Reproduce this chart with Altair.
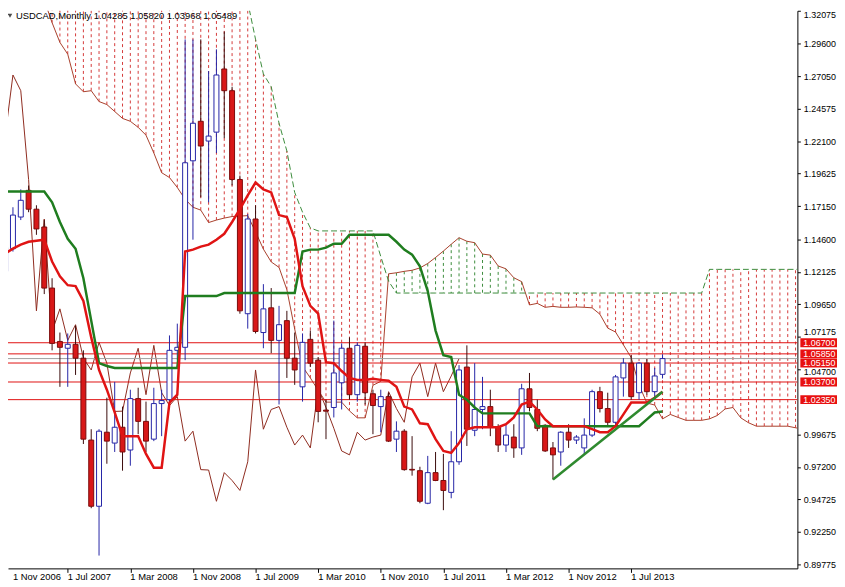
import altair as alt
import pandas as pd

# ---------------- data (month index 0 = Nov 2006) ----------------
opens = [1.1216, 1.1389, 1.1631, 1.1835, 1.1691, 1.1555, 1.1088, 1.0680, 1.0628, 1.0658,
         1.0552, 0.9926, 0.9420, 0.9986, 0.9903, 1.0024, 0.9850, 1.0243, 1.0069, 0.9933,
         1.0205, 1.0235, 1.0612, 1.0635, 1.2061, 1.2363, 1.2212, 1.2280, 1.2763, 1.2597,
         1.1918, 1.0892, 1.1616, 1.0748, 1.0937, 1.0688, 1.0839, 1.0552, 1.0333, 1.0696,
         1.0537, 1.0155, 1.0175, 1.0364, 1.0628, 1.0273, 1.0643, 1.0280, 1.0182, 1.0258,
         0.9933, 0.9994, 0.9702, 0.9692, 0.9443, 0.9677, 0.9617, 0.9526, 0.9760, 1.0484,
         1.0001, 1.0160, 1.0182, 1.0024, 0.9888, 0.9949, 0.9866, 1.0318, 1.0160, 1.0039,
         0.9866, 0.9835, 0.9986, 0.9926, 0.9866, 0.9964, 1.0296, 1.0167, 1.0062, 1.0401,
         1.0514, 1.0288, 1.0514, 1.0296, 1.04285]
highs = [1.1480, 1.1706, 1.1842, 1.1872, 1.1721, 1.1608, 1.1163, 1.0748, 1.0741, 1.0801,
         1.0612, 1.0009, 1.0009, 1.0250, 1.0371, 1.0182, 1.0311, 1.0326, 1.0220, 1.0326,
         1.0311, 1.0726, 1.0816, 1.2989, 1.2989, 1.2989, 1.2747, 1.2913, 1.3049, 1.2627,
         1.1948, 1.1653, 1.1721, 1.1118, 1.1088, 1.0952, 1.0914, 1.0748, 1.0741, 1.0763,
         1.0560, 1.0235, 1.0839, 1.0665, 1.0711, 1.0673, 1.0673, 1.0311, 1.0311, 1.0288,
         1.0069, 1.0009, 0.9956, 0.9722, 0.9805, 0.9835, 0.9820, 0.9994, 1.0499, 1.0650,
         1.0514, 1.0409, 1.0311, 1.0047, 1.0047, 1.0047, 1.0356, 1.0439, 1.0235, 1.0047,
         0.9911, 0.9994, 1.0047, 0.9964, 1.0092, 1.0311, 1.0333, 1.0288, 1.0424, 1.0552,
         1.0575, 1.0522, 1.0545, 1.0477, 1.05820]
lows = [1.1201, 1.1367, 1.1608, 1.1668, 1.1495, 1.1042, 1.0612, 1.0333, 1.0333, 1.0424,
        0.9896, 0.9405, 0.9043, 0.9745, 0.9835, 0.9692, 0.9730, 0.9971, 0.9835, 0.9918,
        0.9956, 1.0213, 1.0537, 1.0537, 1.1458, 1.1782, 1.1744, 1.2121, 1.2234, 1.1872,
        1.0892, 1.0778, 1.0741, 1.0628, 1.0590, 1.0198, 1.0401, 1.0348, 1.0220, 1.0484,
        1.0062, 0.9933, 1.0099, 1.0160, 1.0235, 1.0220, 1.0198, 0.9971, 0.9986, 0.9911,
        0.9835, 0.9692, 0.9654, 0.9443, 0.9436, 0.9612, 0.9390, 0.9481, 0.9737, 0.9881,
        0.9956, 1.0009, 0.9956, 0.9835, 0.9835, 0.9790, 0.9813, 1.0145, 0.9994, 0.9835,
        0.9624, 0.9730, 0.9866, 0.9896, 0.9813, 0.9949, 1.0137, 1.0032, 1.0032, 1.0258,
        1.0235, 1.0235, 1.0273, 1.0258, 1.03968]
closes = [1.1397, 1.1646, 1.1759, 1.1691, 1.1540, 1.1088, 1.0665, 1.0635, 1.0658, 1.0552,
          0.9933, 0.9420, 0.9994, 0.9918, 1.0024, 0.9835, 1.0243, 1.0069, 0.9918, 1.0205,
          1.0228, 1.0612, 1.0635, 1.2046, 1.2348, 1.2174, 1.2250, 1.2717, 1.2597, 1.1918,
          1.0914, 1.1616, 1.0756, 1.0929, 1.0688, 1.0808, 1.0552, 1.0462, 1.0673, 1.0514,
          1.0145, 1.0147, 1.0439, 1.0628, 1.0273, 1.0650, 1.0288, 1.0190, 1.0258, 0.9918,
          0.9994, 0.9700, 0.9697, 0.9458, 0.9677, 0.9617, 0.9541, 0.9760, 1.0462, 1.0009,
          1.0160, 1.0182, 1.0024, 0.9888, 0.9964, 0.9866, 1.0318, 1.0175, 1.0016, 0.9843,
          0.9813, 0.9986, 0.9926, 0.9949, 0.9964, 1.0296, 1.0167, 1.0062, 1.0409, 1.0514,
          1.0258, 1.0514, 1.0296, 1.0416, 1.05489]

tenkan = [1.1352, 1.1389, 1.1420, 1.1442, 1.1450, 1.1458, 1.1291, 1.1178, 1.1110, 1.1103,
          1.0990, 1.0711, 1.0462, 1.0311, 1.0137, 0.9956, 0.9956, 0.9956, 0.9820, 0.9715,
          0.9715, 1.0213, 1.0273, 1.1367, 1.1382, 1.1405, 1.1420, 1.1458, 1.1503, 1.1593,
          1.1691, 1.1797, 1.1895, 1.1842, 1.1819, 1.1646, 1.1631, 1.1465, 1.1103, 1.0952,
          1.0892, 1.0522, 1.0514, 1.0454, 1.0401, 1.0386, 1.0386, 1.0394, 1.0386, 1.0379,
          1.0333, 1.0182, 1.0160, 1.0054, 1.0047, 0.9933, 0.9843, 0.9828, 0.9903, 1.0009,
          1.0024, 1.0024, 1.0024, 1.0024, 1.0047, 1.0099, 1.0198, 1.0220, 1.0160, 1.0084,
          1.0032, 1.0032, 1.0032, 1.0032, 1.0032, 1.0009, 0.9986, 0.9986, 1.0032, 1.0122,
          1.0213, 1.0213, 1.0213, 1.0250, 1.0296]
kijun = [1.1827, 1.1827, 1.1827, 1.1827, 1.1827, 1.1827, 1.1744, 1.1593, 1.1465, 1.1389,
         1.1163, 1.0839, 1.0514, 1.0492, 1.0477, 1.0477, 1.0477, 1.0477, 1.0477, 1.0477,
         1.0477, 1.0477, 1.0477, 1.1027, 1.1027, 1.1027, 1.1027, 1.1027, 1.1050, 1.1050,
         1.1050, 1.1050, 1.1050, 1.1050, 1.1050, 1.1050, 1.1050, 1.1050, 1.1367, 1.1382,
         1.1382, 1.1397, 1.1427, 1.1427, 1.1495, 1.1495, 1.1495, 1.1495, 1.1495, 1.1495,
         1.1442, 1.1382, 1.1344, 1.1254, 1.1065, 1.0763, 1.0575, 1.0560, 1.0273, 1.0235,
         1.0175, 1.0130, 1.0130, 1.0130, 1.0130, 1.0130, 1.0130, 1.0130, 1.0032, 1.0032,
         1.0032, 1.0032, 1.0032, 1.0032, 1.0032, 1.0032, 1.0032, 1.0032, 1.0032, 1.0032,
         1.0032, 1.0032, 1.0084, 1.0137, 1.0145]

# Senkou spans (cloud), month index 5 .. 110
senkou_start = 5
senkou_a = [1.3290, 1.3117, 1.2966, 1.2876, 1.2649, 1.2589, 1.2597, 1.2514, 1.2491, 1.2438,
            1.2385, 1.2363, 1.2317, 1.2257, 1.2121, 1.1970, 1.1933, 1.1857, 1.1767, 1.1706,
            1.1684, 1.1589, 1.1608, 1.1623, 1.1635, 1.1638, 1.1642, 1.1518, 1.1386, 1.1288,
            1.1246, 1.1076, 1.0775, 1.0488, 1.0401, 1.0307, 1.0216, 1.0216, 1.0216, 1.0149,
            1.0096, 1.0096, 1.0345, 1.0375, 1.1197, 1.1205, 1.1216, 1.1224, 1.1242, 1.1276,
            1.1322, 1.1371, 1.1423, 1.1473, 1.1446, 1.1435, 1.1348, 1.1340, 1.1257, 1.1235,
            1.1167, 1.1137, 1.0959, 1.0971, 1.0941, 1.0948, 1.0941, 1.0941, 1.0944, 1.0941,
            1.0937, 1.0888, 1.0782, 1.0752, 1.0654, 1.0556, 1.0348, 1.0209, 1.0194, 1.0088,
            1.0122, 1.0099, 1.0077, 1.0077, 1.0077, 1.0088, 1.0114, 1.0164, 1.0175, 1.0096,
            1.0058, 1.0032, 1.0032, 1.0032, 1.0032, 1.0032, 1.0020, 1.0009, 1.0009, 1.0032,
            1.0077, 1.0122, 1.0122, 1.0149, 1.0194, 1.0220]
senkou_b = ([1.3600] * 25 +
            [1.3404, 1.3275, 1.2989, 1.2725, 1.2627, 1.2348, 1.2136, 1.1819, 1.1668, 1.1548] +
            [1.1525] * 8 + [1.1329, 1.1140] + [1.1050] * 40 + [1.1231] * 21)

trend_months = [70, 84]
trend_prices = [0.9624, 1.0296]

red_levels = [1.06700, 1.05850, 1.05150, 1.03700, 1.02350]
red_level_labels = ["1.06700", "1.05850", "1.05150", "1.03700", "1.02350"]
current_price = 1.05489

y_ticks = [1.32075, 1.29600, 1.27050, 1.24575, 1.22100, 1.19625, 1.17150, 1.14600, 1.12125,
           1.09650, 1.07175, 1.04700, 0.99675, 0.97200, 0.94725, 0.92250, 0.89775]
x_tick_months = [0, 8, 16, 24, 32, 40, 48, 56, 64, 72, 80]
x_tick_labels = ["1 Nov 2006", "1 Jul 2007", "1 Mar 2008", "1 Nov 2008", "1 Jul 2009",
                 "1 Mar 2010", "1 Nov 2010", "1 Jul 2011", "1 Mar 2012", "1 Nov 2012",
                 "1 Jul 2013"]
header = "USDCAD,Monthly  1.04285 1.05820 1.03968 1.05489"

# ---------------- frames ----------------
W, H = 797, 563
FONT = "Liberation Sans"
n = len(opens)
df = pd.DataFrame({"i": list(range(n)), "open": opens, "high": highs,
                   "low": lows, "close": closes})
bull = df[df["close"] >= df["open"]]
bear = df[df["close"] < df["open"]]

ind = pd.DataFrame({"i": list(range(n)), "tenkan": tenkan, "kijun": kijun})
cloud = pd.DataFrame({"i": [senkou_start + k for k in range(len(senkou_a))],
                      "a": senkou_a, "b": senkou_b})
cloud["kind"] = ["up" if a > b else "down" for a, b in zip(cloud["a"], cloud["b"])]
chikou = pd.DataFrame({"i": list(range(n - 26)), "v": closes[26:]})
trend = pd.DataFrame({"i": trend_months, "v": trend_prices})
levels = pd.DataFrame({"v": red_levels, "label": red_level_labels})
cur = pd.DataFrame({"v": [current_price]})
xl = pd.DataFrame({"i": [max(m, 1) for m in x_tick_months], "label": x_tick_labels})

xs = alt.Scale(domain=[1, 100.6], nice=False, zero=False)
ys = alt.Scale(domain=[0.8945, 1.3208], nice=False, zero=False)

axis_y = alt.Axis(
    orient="right", values=y_ticks, format=".5f", title=None, grid=False,
    labelFont=FONT, labelFontSize=9, labelColor="black", labelPadding=3,
    labelBaseline={"condition": {"test": "datum.value > 1.32", "value": "top"},
                   "value": "middle"},
    labelOffset={"condition": [
        {"test": "datum.value > 1.07 && datum.value < 1.075", "value": -5},
        {"test": "datum.value > 1.045 && datum.value < 1.049", "value": 3}],
        "value": 0},
    tickSize=3, tickColor="black", domainColor="black", labelOverlap=False,
    labelFlush=False, labelBound=False)
axis_x = alt.Axis(orient="bottom", values=x_tick_months[1:], labels=False, title=None,
                  grid=False, tickSize=4, tickColor="black", domainColor="black")

X = alt.X("i:Q", scale=xs, axis=axis_x)


def Y(field):
    return alt.Y(field, scale=ys, axis=axis_y)


hatch = alt.Chart(cloud).mark_rule(strokeDash=[3, 3], strokeWidth=1, clip=True).encode(
    x=X, y=Y("a:Q"), y2="b:Q",
    color=alt.Color("kind:N", scale=alt.Scale(domain=["down", "up"],
                                              range=["#d43a3a", "#3c8c3c"]), legend=None),
)
span_a = alt.Chart(cloud).mark_line(color="#a8402c", strokeWidth=1, clip=True).encode(
    x=X, y=Y("a:Q"))
span_b = alt.Chart(cloud).mark_line(color="#3c8c3c", strokeWidth=1, strokeDash=[6, 3],
                                    clip=True).encode(x=X, y=Y("b:Q"))
chik = alt.Chart(chikou).mark_line(color="#8e2a1e", strokeWidth=1, clip=True).encode(
    x=X, y=Y("v:Q"))

hl = alt.Chart(levels).mark_rule(color="#e01010", strokeWidth=1).encode(y=Y("v:Q"))
curl = alt.Chart(cur).mark_rule(color="#a0a0a0", strokeWidth=1).encode(y=Y("v:Q"))

bull_wick = alt.Chart(bull).mark_rule(color="#2424a6", strokeWidth=1, clip=True).encode(
    x=X, y=Y("low:Q"), y2="high:Q")
bear_wick = alt.Chart(bear).mark_rule(color="#3a0a0a", strokeWidth=1, clip=True).encode(
    x=X, y=Y("low:Q"), y2="high:Q")
bull_body = alt.Chart(bull).mark_bar(size=5, orient="vertical", fill="white",
                                     stroke="#2424a6", strokeWidth=1, clip=True).encode(
    x=X, y=Y("open:Q"), y2="close:Q")
bear_body = alt.Chart(bear).mark_bar(size=5, orient="vertical", fill="#d81818",
                                     stroke="#7a0a0a", strokeWidth=1, clip=True).encode(
    x=X, y=Y("open:Q"), y2="close:Q")

kij = alt.Chart(ind).mark_line(color="#1f7d1f", strokeWidth=2.5, clip=True).encode(
    x=X, y=Y("kijun:Q"))
ten = alt.Chart(ind).mark_line(color="#e01414", strokeWidth=2.5, clip=True).encode(
    x=X, y=Y("tenkan:Q"))
tl = alt.Chart(trend).mark_line(color="#2f8a2f", strokeWidth=2.5, clip=True).encode(
    x=X, y=Y("v:Q"))

box = alt.Chart(levels).mark_rule(color="#e81010", strokeWidth=9, strokeCap="butt").encode(
    y=Y("v:Q"), x=alt.value(W + 3), x2=alt.value(W + 40))
box_txt = alt.Chart(levels).mark_text(color="white", font=FONT, fontSize=9, align="left",
                                      baseline="middle").encode(
    y=Y("v:Q"), x=alt.value(W + 6), text="label:N")

xlab = alt.Chart(xl).mark_text(color="black", font=FONT, fontSize=9.5, align="left",
                               baseline="middle").encode(
    x=X, y=alt.value(H + 9), text="label:N")

hdr = alt.Chart(pd.DataFrame({"t": [header]})).mark_text(
    color="black", font=FONT, fontSize=9.5, align="left", baseline="middle").encode(
    x=alt.value(8), y=alt.value(5), text="t:N")
tri = alt.Chart(pd.DataFrame({"t": [0]})).mark_point(
    shape="triangle-down", filled=True, color="black", size=22).encode(
    x=alt.value(2), y=alt.value(5))

chart = alt.layer(
    hatch, span_a, span_b, chik, curl, hl,
    bull_wick, bear_wick, bull_body, bear_body, kij, ten, tl,
    box, box_txt, xlab, hdr, tri
).properties(
    width=W, height=H,
    autosize=alt.AutoSizeParams(type="none"),
    padding={"left": 0, "top": 0, "right": 40, "bottom": 16},
    background="white",
).configure_view(strokeWidth=0)

chart.save("out.html", embed_options={"renderer": "svg", "actions": False})
